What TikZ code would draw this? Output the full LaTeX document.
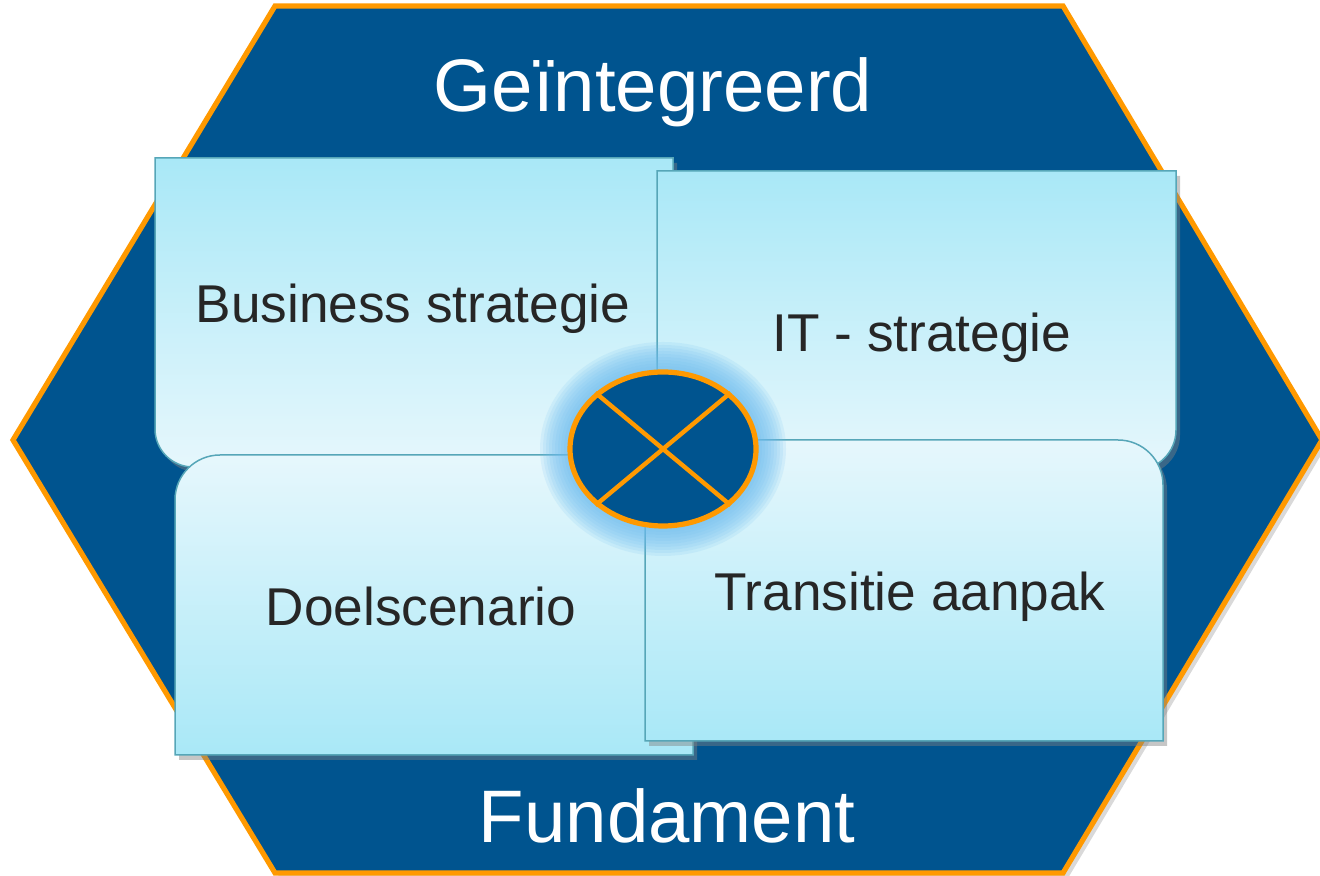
\documentclass[tikz,border=0pt]{standalone}
\usepackage{fontspec}
\setmainfont{Liberation Sans}
\usepackage{tikz}
\usetikzlibrary{positioning,calc,shapes.geometric,shadows}
\definecolor{hexblue}{HTML}{00548F}
\definecolor{rimorange}{HTML}{FF9900}
\definecolor{panelrim}{HTML}{56A6B8}
\definecolor{paneldark}{HTML}{A9E8F7}
\definecolor{panellight}{HTML}{E6F7FC}
\definecolor{glowblue}{HTML}{6FBDF0}
\definecolor{inktext}{HTML}{262626}
\tikzset{
  hexagon/.style={fill=hexblue, draw=rimorange, line width=2.6pt, line join=miter,
    drop shadow={shadow xshift=2.5pt, shadow yshift=-2.5pt, opacity=0.3}},
  panel/.style={draw=panelrim, line width=0.75pt,
    drop shadow={shadow xshift=2pt, shadow yshift=-2.5pt, opacity=0.45}},
  panelup/.style={panel, top color=paneldark, bottom color=panellight},
  paneldown/.style={panel, top color=panellight, bottom color=paneldark},
  title/.style={text=white, font=\fontsize{37.2}{40}\selectfont, anchor=base, inner sep=0pt},
  paneltext/.style={text=inktext, font=\fontsize{26.6}{30}\selectfont, anchor=base, inner sep=0pt},
  hubcross/.style={draw=rimorange, line width=2.2pt}
}

\begin{document}
\begin{tikzpicture}[x=0.5pt,y=0.5pt]
	\useasboundingbox (0,0) rectangle (1320,876);
	\path[hexagon] (275,870) -- (1063,870) -- (1322,436) -- (1063,3) -- (275,3) -- (13,436) -- cycle;
	\path[panelup] (155,718) -- (673,718) -- (673,409) -- (193,409) arc[start angle=270, end angle=180, radius=19pt] -- cycle;
	\path[panelup] (657,705) -- (1176,705) -- (1176,446) arc[start angle=0, end angle=-90, radius=20pt] -- (657,406) -- cycle;
	\path[paneldown] (175,121) -- (175,376) arc[start angle=180, end angle=90, radius=22.5pt] -- (693,421) -- (693,121) -- cycle;
	\path[paneldown] (645,135) -- (645,436) -- (1118,436) arc[start angle=90, end angle=0, radius=22.5pt] -- (1163,135) -- cycle;
	\node at (653,764) [title] (integrated) {Geïntegreerd};
	\node at (667,33) [title] (foundation) {Fundament};
	\node at (413,553) [paneltext] (bizstrat) {Business strategie};
	\node at (922,524) [paneltext] (itstrat) {IT - strategie};
	\node at (421,250) [paneltext] (target) {Doelscenario};
	\node at (910,265) [paneltext] (transition) {Transitie aanpak};
	\coordinate (mid) at (663,427);
	\foreach \g in {1,...,10}
		\fill[glowblue, opacity=0.14] (mid) ellipse [x radius=46.5pt+\g*1.5pt, y radius=38.5pt+\g*1.5pt];
	\node at (mid) [ellipse, fill=hexblue, draw=rimorange, line width=2.6pt, minimum width=93pt, minimum height=77pt, inner sep=0pt] (hub) {};
	\draw[hubcross] (hub.north west) -- (hub.south east);
	\draw[hubcross] (hub.north east) -- (hub.south west);
\end{tikzpicture}
\end{document}
